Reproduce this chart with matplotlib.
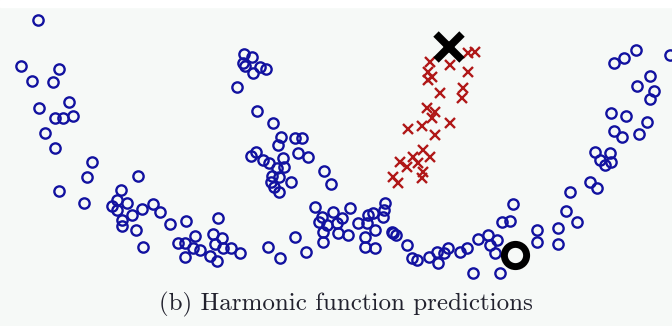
import matplotlib.pyplot as plt
from matplotlib.patches import Rectangle

# points (pixel-like units, y grows downward)
blue_x = [38, 21, 59, 32, 53, 69, 39, 73, 55, 63, 45, 55, 92, 87, 138, 59, 84, 121,
          112, 117, 127, 117, 132, 142, 153, 160, 122, 122, 136, 170, 186, 218, 143,
          178, 185, 195, 193, 200, 185, 213, 215, 210, 217, 222, 223, 231, 240,
          244, 252, 243, 245, 253, 260, 266, 237, 257, 273, 281, 278, 295, 302,
          298, 308, 251, 256, 263, 269, 283, 284, 277, 272, 271, 279, 274, 279, 291,
          324, 331,
          268, 280, 306, 295, 315, 322, 327, 333, 337, 323, 323, 338, 348, 350, 358,
          368, 373, 385, 383, 367, 375, 392, 365, 365, 375, 407, 412, 417, 319, 342,
          396, 384,
          393, 429, 437, 438, 448, 460, 467, 444, 478, 488, 490, 497, 495, 473, 500,
          502, 510, 513, 537, 537, 558, 558, 566, 577, 570, 590, 597, 595, 600, 605,
          610, 611, 611, 626, 647, 614, 622, 639, 636, 624, 614, 670, 650, 637, 654,
          650]
blue_y = [20, 66, 69, 81, 82, 102, 108, 116, 118, 118, 133, 148, 162, 177, 176, 191,
          203, 190, 206, 200, 203, 210, 215, 209, 204, 212, 220, 226, 230, 224, 221,
          218, 247, 243, 243, 236, 248, 250, 257, 234, 244, 256, 261, 238, 248, 248,
          253,
          54, 57, 63, 66, 73, 67, 69, 87, 111, 123, 137, 145, 138, 138,
          153, 157, 156, 152, 160, 163, 158, 167, 168, 176, 182, 177, 187, 192, 182,
          171, 184,
          247, 258, 252, 237, 207, 217, 225, 212, 223, 232, 242, 233, 235, 208, 223,
          215, 213, 203, 217, 223, 230, 232, 237, 247, 248, 245, 258, 260, 222, 218,
          235, 210,
          233, 257, 252, 263, 248, 252, 248, 253, 239, 235, 245, 240, 253, 273, 273,
          222, 221, 204, 230, 242, 228, 244, 211, 222, 192, 182, 188, 152, 160, 165,
          153, 162, 113, 116, 122, 131, 137, 134, 50, 58, 63, 55, 76, 86, 91,
          99]

red_x = [430, 428, 432, 428, 450, 468, 468, 475, 463, 462, 440, 427, 435, 432, 450,
         422, 408, 435, 423, 430, 413, 400, 418, 407, 423, 393, 398, 422]
red_y = [62, 72, 77, 80, 65, 72, 53, 52, 88, 98, 93, 108, 112, 118, 123,
         126, 129, 135, 150, 157, 157, 162, 163, 167, 172, 177, 183, 178]

labeled_pos = (449, 47)
labeled_neg = (515, 255)

caption = "(b) Harmonic function predictions"

bg = '#f6f9f7'
fig = plt.figure(figsize=(6.72, 3.26), dpi=100, facecolor=bg)
fig.patches.append(Rectangle((0, 1 - 7 / 326), 1, 7 / 326, transform=fig.transFigure,
                             color='white', zorder=0))

ax = fig.add_axes([0, 0, 1, 1])
ax.set_facecolor('none')
ax.set_xlim(0, 672)
ax.set_ylim(326, 0)
ax.axis('off')

ax.plot(blue_x, blue_y, 'o', ms=7.4, mfc='none', mec='#1212a0', mew=1.7)
ax.plot(red_x, red_y, 'x', ms=7.2, mec='#b01818', mew=1.7)
ax.plot(*labeled_pos, 'x', ms=19, mec='black', mew=5.5)
ax.plot(*labeled_neg, 'o', ms=16, mfc='none', mec='black', mew=5)

ax.text(346, 304, caption, ha='center', va='center', fontsize=18,
        family=['cmr10', 'DejaVu Serif'], color='#22222e')

fig.savefig('out.png', dpi=100, facecolor=bg)
